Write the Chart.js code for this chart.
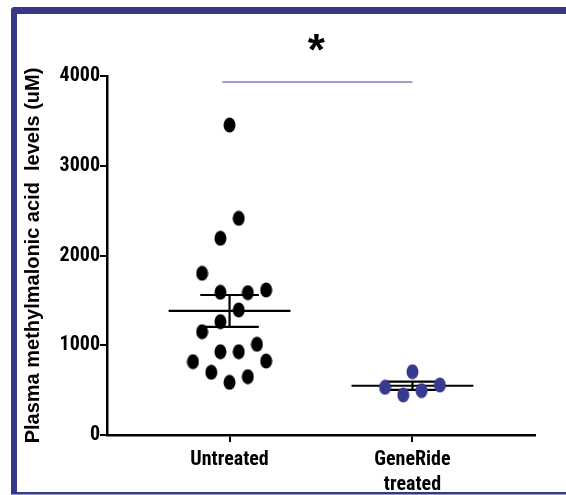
<!DOCTYPE html>
<html><head><meta charset="utf-8">
<script src="https://cdn.jsdelivr.net/npm/chart.js@4.4.1/dist/chart.umd.min.js"></script>
<style>html,body{margin:0;padding:0;background:#fff;overflow:hidden}#wrap{position:relative;width:566px;height:495px;background:#fff}</style>
</head><body><div id="wrap"><canvas id="c" width="566" height="495"></canvas></div>
<script>
// ---- data ----
const categories = ['Untreated', ['GeneRide', 'treated']];
const untreatedX = [0.00, 0.05, -0.05, -0.15, -0.05, 0.10, 0.20, 0.05, -0.05, -0.15, -0.05, 0.05, 0.15, -0.20, 0.20, -0.10, 0.10, 0.00];
const untreatedY = [3454, 2414, 2192, 1802, 1590, 1586, 1616, 1393, 1263, 1151, 928, 928, 1011, 817, 824, 699, 650, 587];
const treatedX = [0.00, -0.15, -0.05, 0.05, 0.15];
const treatedY = [705, 531, 446, 494, 557];
const groupMeans = [1382, 549];
const groupSEMs = [178, 46];
const yTicks = [0, 1000, 2000, 3000, 4000];
const yTickLabels = ['0', '1000', '2000', '3000', '4000'];
const sigFrom = -0.04, sigTo = 1.0, sigLevel = 3933;
const sigMark = '*', sigMarkX = 0.475, sigMarkY = 4368;
const yTitle = 'Plasma methylmalonic acid  levels (uM)';

const NARROW = "'Roboto Condensed', 'Liberation Sans Narrow', Roboto, sans-serif";
const SANS = "'Liberation Sans', Arial, sans-serif";
const FRAME = '#35388b';
const BLUE = '#363a90';

function dotImg(color) {
  const c = document.createElement('canvas');
  c.width = 13; c.height = 16;
  const g = c.getContext('2d');
  g.fillStyle = color;
  g.beginPath();
  g.ellipse(6.5, 8, 6, 7.6, 0, 0, Math.PI * 2);
  g.fill();
  return c;
}

function statSegments(i) {
  const m = groupMeans[i], s = groupSEMs[i];
  return [
    {x: i - 0.333, y: m}, {x: i + 0.333, y: m}, {x: NaN, y: null},
    {x: i, y: m - s}, {x: i, y: m + s}, {x: NaN, y: null},
    {x: i - 0.16, y: m + s}, {x: i + 0.16, y: m + s}, {x: NaN, y: null},
    {x: i - 0.16, y: m - s}, {x: i + 0.16, y: m - s}
  ];
}

const lineDs = (data, color, w, order) => ({
  type: 'line', data, borderColor: color, borderWidth: w, pointRadius: 0,
  showLine: true, spanGaps: false, fill: false, order
});

const framePlugin = {
  id: 'frame',
  beforeDraw(chart) {
    const ctx = chart.ctx;
    ctx.save();
    ctx.fillStyle = '#fff';
    ctx.fillRect(0, 0, 566, 495);
    ctx.fillStyle = FRAME;
    ctx.beginPath();
    ctx.roundRect(11, 7, 600, 7, [4, 0, 0, 0]);
    ctx.fill();
    ctx.beginPath();
    ctx.roundRect(11, 7, 6, 487, [4, 0, 0, 0]);
    ctx.fill();
    ctx.fillRect(11, 492, 560, 2.5);
    ctx.restore();
  }
};

const starPlugin = {
  id: 'star',
  afterDatasetsDraw(chart) {
    const ctx = chart.ctx;
    const x = chart.scales.x.getPixelForValue(sigMarkX);
    const y = chart.scales.y.getPixelForValue(sigMarkY);
    ctx.save();
    ctx.font = 'bold 44px ' + SANS;
    ctx.fillStyle = '#000';
    ctx.textAlign = 'center';
    ctx.textBaseline = 'alphabetic';
    const mt = ctx.measureText(sigMark);
    const base = y + (mt.actualBoundingBoxAscent - mt.actualBoundingBoxDescent) / 2;
    ctx.fillText(sigMark, x, base);
    ctx.restore();
  }
};

new Chart(document.getElementById('c'), {
  type: 'scatter',
  data: {
    datasets: [
      {data: untreatedX.map((x, k) => ({x: 0 + x, y: untreatedY[k]})), pointStyle: dotImg('#000'), order: 0},
      {data: treatedX.map((x, k) => ({x: 1 + x, y: treatedY[k]})), pointStyle: dotImg(BLUE), order: 0},
      lineDs(statSegments(0), '#000', 2.2, 2),
      lineDs(statSegments(1), '#000', 2.2, 2),
      lineDs([{x: sigFrom, y: sigLevel}, {x: sigTo, y: sigLevel}], '#7c80c8', 1.5, 3)
    ]
  },
  options: {
    responsive: false,
    devicePixelRatio: 1,
    animation: false,
    events: [],
    layout: {padding: {left: 0, top: 76, right: 31, bottom: 0}},
    plugins: {legend: {display: false}, tooltip: {enabled: false}},
    scales: {
      x: {
        type: 'linear', min: -0.67, max: 1.67,
        afterBuildTicks: s => { s.ticks = categories.map((c, i) => ({value: i})); },
        afterFit: s => { s.height = 60; },
        ticks: {
          color: '#000', padding: 5, maxRotation: 0, autoSkip: false,
          font: {family: NARROW, size: 20, weight: 'bold', lineHeight: 1.25},
          callback: v => categories[v]
        },
        grid: {display: true, drawOnChartArea: false, drawTicks: true, tickLength: 7, color: '#000', lineWidth: 2},
        border: {display: true, color: '#000', width: 2.5}
      },
      y: {
        type: 'linear', min: 0, max: 4000,
        afterBuildTicks: s => { s.ticks = yTicks.map(v => ({value: v})); },
        afterFit: s => { s.width = 107; },
        ticks: {
          color: '#000', padding: 0, font: {family: NARROW, size: 20, weight: 'bold'},
          callback: v => yTickLabels[yTicks.indexOf(v)]
        },
        grid: {display: true, drawOnChartArea: false, drawTicks: true, tickLength: 7, color: '#000', lineWidth: 2},
        border: {display: true, color: '#000', width: 2.5},
        title: {
          display: true, text: yTitle, color: '#000',
          font: {family: SANS, size: 20, weight: 'bold', lineHeight: 1.2},
          padding: {top: 21, bottom: 0}
        }
      }
    }
  },
  plugins: [framePlugin, starPlugin]
});
</script>
</body></html>
